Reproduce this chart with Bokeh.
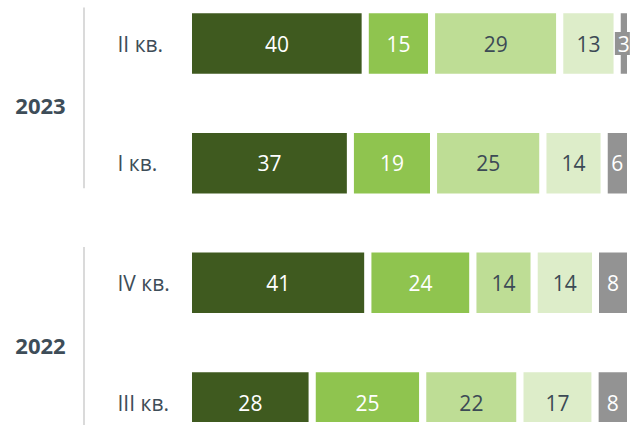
from bokeh.plotting import figure
from bokeh.models import ColumnDataSource, Range1d, LabelSet
from bokeh.core.properties import value
from bokeh.embed import file_html
from bokeh.resources import INLINE

# ---- data ----
years = ["2023", "2023", "2022", "2022"]
quarters = ["II кв.", "I кв.", "IV кв.", "III кв."]
series_1 = [40, 37, 41, 28]
series_2 = [15, 19, 24, 25]
series_3 = [29, 25, 14, 22]
series_4 = [13, 14, 14, 17]
series_5 = [3, 6, 8, 8]

series = [series_1, series_2, series_3, series_4, series_5]
colors = ["#3F5A1F", "#8FC44F", "#BEDD95", "#DDEDC9", "#939393"]
label_colors = ["#FFFFFF", "#FFFFFF", "#3C4A55", "#3C4A55", "#FFFFFF"]
TEXT_DARK = "#3E4D58"
FONT = "Open Sans"

# ---- layout constants ----
W, H = 630, 425
PX_PER_UNIT = 4.42
X_START = -188 / PX_PER_UNIT
ROW_PX = 119.67
Y_TOP = -43 / ROW_PX
Y_BOTTOM = Y_TOP + H / ROW_PX
BAR_H = 67.5 / ROW_PX
GAP_PX = 7
BOX_W = 15 / PX_PER_UNIT
BOX_H = 23 / ROW_PX

rows = list(range(len(quarters)))
totals = [sum(s[i] for s in series) for i in rows]

p = figure(width=W, height=H, output_backend="svg", toolbar_location=None,
           x_range=Range1d(X_START, X_START + W / PX_PER_UNIT),
           y_range=Range1d(Y_BOTTOM, Y_TOP),
           x_axis_location=None, y_axis_location=None,
           min_border=0, outline_line_color=None)
p.grid.visible = False
p.background_fill_color = "white"

# stacked bars normalised to 100%
cum = [0.0] * len(rows)
for k, s in enumerate(series):
    left = [cum[i] for i in rows]
    right = [cum[i] + s[i] * 100.0 / totals[i] for i in rows]
    src = ColumnDataSource(dict(y=rows, left=left, right=right))
    p.hbar(y="y", left="left", right="right", height=BAR_H, source=src,
           fill_color=colors[k], line_color="white", line_width=GAP_PX)

    xs, ys, ts = [], [], []
    box_l, box_r, box_y = [], [], []
    for i in rows:
        cx = (left[i] + right[i]) / 2
        xs.append(cx)
        ys.append(i)
        ts.append(str(s[i]))
        if (right[i] - left[i]) * PX_PER_UNIT < 22:
            box_l.append(cx - BOX_W * 0.6)
            box_r.append(cx + BOX_W * 0.4)
            box_y.append(i)
    if box_y:
        # label background box for segments too narrow for their label
        p.hbar(y=box_y, left=box_l, right=box_r, height=BOX_H,
               fill_color=colors[k], line_color=None)
    p.text(x=xs, y=ys, text=ts, text_color=label_colors[k],
           text_align="center", text_baseline="middle",
           text_font=value(FONT), text_font_size="21px")
    cum = right

# quarter labels
qsrc = ColumnDataSource(dict(y=rows, q=quarters))
p.add_layout(LabelSet(x=117, x_units="screen", y="y", text="q", source=qsrc,
                      text_align="left", text_baseline="middle",
                      text_font=value(FONT), text_font_size="21px",
                      text_color=TEXT_DARK))

# year group labels + separators
groups = []
for i, yv in enumerate(years):
    if not groups or groups[-1][0] != yv:
        groups.append([yv, i, i])
    else:
        groups[-1][2] = i
gy = [(g[1] + g[2]) / 2 + 0.03 for g in groups]
ysrc = ColumnDataSource(dict(y=gy, t=[g[0] for g in groups]))
p.add_layout(LabelSet(x=40, x_units="screen", y="y", text="t", source=ysrc,
                      text_align="center", text_baseline="middle",
                      text_font=value(FONT), text_font_size="22px",
                      text_font_style="bold", text_color=TEXT_DARK))

LINE_X = X_START + 83.5 / PX_PER_UNIT
p.segment(x0=[LINE_X] * len(groups), x1=[LINE_X] * len(groups),
          y0=[g[1] - 0.3 for g in groups], y1=[g[2] + 0.21 for g in groups],
          line_color="#DADADA", line_width=2)

open("out.html", "w").write(file_html(p, INLINE))
